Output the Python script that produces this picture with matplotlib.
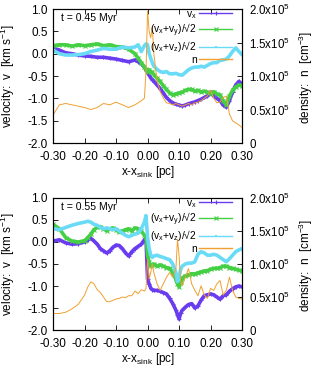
#!/usr/bin/env python3
"""Velocity and density cuts through the sink at t = 0.45 and 0.55 Myr."""

import matplotlib

matplotlib.use("Agg")
import matplotlib.pyplot as plt
from matplotlib.lines import Line2D

# ---- t = 0.45 Myr -------------------------------------------------------
x_045 = [-0.30, -0.28, -0.26, -0.24, -0.22, -0.20, -0.18, -0.16, -0.14, -0.12,
         -0.10, -0.08, -0.06, -0.04, -0.03, -0.02, -0.01, -0.005, 0.0, 0.005,
         0.01, 0.015, 0.02, 0.03, 0.04, 0.05, 0.06, 0.07, 0.08, 0.09,
         0.10, 0.11, 0.12, 0.13, 0.14, 0.15, 0.16, 0.17, 0.18, 0.19,
         0.20, 0.21, 0.22, 0.23, 0.24, 0.25, 0.26, 0.27, 0.28, 0.29, 0.30]
vx_045 = [0.12, 0.08, 0.02, 0.0, -0.03, -0.05, -0.06, -0.08, -0.08, -0.10,
          -0.12, -0.15, -0.18, -0.14, -0.18, -0.22, -0.30, -0.36, -0.42, -0.48,
          -0.54, -0.58, -0.62, -0.70, -0.78, -0.88, -0.98, -1.05, -1.10, -1.13,
          -1.15, -1.17, -1.15, -1.12, -1.10, -1.08, -1.05, -1.02, -0.98, -0.95,
          -0.86, -0.95, -1.00, -1.05, -1.15, -1.20, -1.05, -0.85, -0.70, -0.62, -0.68]
vxy_045 = [0.18, 0.20, 0.20, 0.17, 0.20, 0.18, 0.20, 0.22, 0.18, 0.20,
           0.16, 0.15, 0.10, 0.0, -0.10, -0.20, -0.30, -0.35, -0.40, -0.36,
           -0.40, -0.42, -0.47, -0.55, -0.62, -0.72, -0.80, -0.88, -0.92, -0.90,
           -0.88, -0.86, -0.82, -0.80, -0.80, -0.84, -0.82, -0.86, -0.84, -0.86,
           -0.90, -0.85, -0.90, -0.92, -1.05, -1.15, -0.95, -0.82, -0.75, -0.70, -0.72]
vxz_045 = [0.08, 0.0, -0.03, -0.03, -0.02, 0.0, 0.05, 0.08, 0.12, 0.10,
           0.10, 0.15, 0.13, 0.15, 0.20, 0.05, 0.18, 0.22, 0.20, 0.0,
           -0.10, -0.20, -0.28, -0.35, -0.40, -0.42, -0.40, -0.45, -0.45, -0.44,
           -0.47, -0.48, -0.42, -0.36, -0.32, -0.30, -0.30, -0.28, -0.30, -0.26,
           -0.22, -0.20, -0.20, -0.15, -0.14, -0.12, -0.05, 0.05, 0.13, 0.05, -0.02]
n_045 = [0.42, 0.57, 0.59, 0.57, 0.55, 0.53, 0.50, 0.53, 0.59, 0.57,
         0.61, 0.57, 0.53, 0.57, 0.60, 0.63, 0.67, 1.07, 1.97, 1.67,
         1.57, 1.73, 1.33, 0.93, 0.77, 0.67, 0.60, 0.59, 0.57, 0.59,
         0.57, 0.55, 0.57, 0.59, 0.57, 0.60, 0.61, 0.63, 0.67, 0.70,
         0.79, 0.67, 0.60, 0.61, 0.68, 0.70, 0.43, 0.33, 0.30, 0.27, 0.23]

# ---- t = 0.55 Myr -------------------------------------------------------
x_055 = [-0.30, -0.28, -0.26, -0.24, -0.22, -0.20, -0.19, -0.18, -0.17, -0.16,
         -0.15, -0.14, -0.13, -0.12, -0.11, -0.10, -0.09, -0.08, -0.07, -0.06,
         -0.05, -0.04, -0.03, -0.02, -0.01, -0.005, 0.0, 0.005, 0.01, 0.015,
         0.02, 0.03, 0.04, 0.05, 0.06, 0.07, 0.08, 0.09, 0.095, 0.10,
         0.105, 0.11, 0.12, 0.13, 0.14, 0.15, 0.16, 0.17, 0.18, 0.19,
         0.20, 0.21, 0.22, 0.23, 0.24, 0.25, 0.26, 0.27, 0.28, 0.29, 0.30]
vx_055 = [0.02, 0.05, -0.02, -0.05, -0.04, 0.0, 0.05, 0.08, 0.02, -0.05,
          -0.15, -0.20, -0.25, -0.20, -0.12, -0.07, -0.08, -0.15, -0.25, -0.32,
          -0.22, -0.15, -0.10, -0.05, 0.05, 0.10, -0.85, -0.95, -1.05, -1.08,
          -1.10, -1.10, -1.12, -1.15, -1.18, -1.28, -1.40, -1.55, -1.65, -1.75,
          -1.62, -1.55, -1.48, -1.42, -1.40, -1.50, -1.45, -1.32, -1.22, -1.20,
          -1.18, -1.20, -1.25, -1.30, -1.22, -1.20, -1.12, -1.06, -1.02, -1.00, -1.02]
vxy_055 = [0.40, 0.30, 0.10, 0.02, 0.0, 0.03, 0.10, 0.18, 0.28, 0.33,
           0.35, 0.30, 0.26, 0.30, 0.32, 0.28, 0.22, 0.25, 0.28, 0.30,
           0.25, 0.32, 0.30, 0.25, 0.15, 0.12, -0.30, -0.45, -0.55, -0.52,
           -0.50, -0.55, -0.52, -0.55, -0.58, -0.60, -0.70, -0.85, -0.95, -1.02,
           -0.90, -0.82, -0.77, -0.75, -0.72, -0.73, -0.70, -0.68, -0.66, -0.65,
           -0.62, -0.60, -0.60, -0.58, -0.55, -0.55, -0.58, -0.60, -0.62, -0.64, -0.66]
vxz_055 = [0.30, 0.28, 0.33, 0.38, 0.42, 0.45, 0.47, 0.45, 0.40, 0.38,
           0.33, 0.30, 0.32, 0.30, 0.28, 0.30, 0.25, 0.20, 0.15, 0.12,
           0.15, 0.18, 0.20, 0.30, 0.45, 0.60, 0.10, -0.15, -0.30, -0.35,
           -0.32, -0.30, -0.33, -0.35, -0.38, -0.40, -0.50, -0.70, -0.90, -0.80,
           -0.62, -0.55, -0.50, -0.48, -0.48, -0.45, -0.28, -0.22, -0.25, -0.30,
           -0.30, -0.28, -0.30, -0.35, -0.40, -0.45, -0.38, -0.30, -0.22, -0.18, -0.15]
n_055 = [0.25, 0.25, 0.27, 0.32, 0.39, 0.53, 0.65, 0.73, 0.70, 0.61,
         0.57, 0.50, 0.43, 0.43, 0.45, 0.47, 0.48, 0.50, 0.49, 0.52,
         0.52, 0.59, 0.55, 0.61, 0.59, 0.63, 1.07, 0.77, 0.87, 1.00,
         0.87, 0.70, 0.60, 0.70, 0.80, 0.87, 0.80, 0.93, 1.37, 1.13,
         0.73, 0.67, 0.80, 0.93, 0.70, 0.60, 0.52, 0.67, 0.53, 0.48,
         0.63, 0.60, 0.70, 0.75, 0.53, 0.60, 0.80, 0.60, 0.50, 0.48, 0.47]

panel_times = ["t = 0.45 Myr", "t = 0.55 Myr"]
series_labels = [r"v$_x$", r"(v$_x$+v$_y$)/√2", r"(v$_x$+v$_z$)/√2", "n"]
x_ticks = [-0.30, -0.20, -0.10, 0.00, 0.10, 0.20, 0.30]
v_ticks = [-2.0, -1.5, -1.0, -0.5, 0.0, 0.5, 1.0]
n_ticks = [0.0, 0.5, 1.0, 1.5, 2.0]
n_tick_labels = ["0", r"0.5x10$^5$", r"1.0x10$^5$", r"1.5x10$^5$", r"2.0x10$^5$"]

C_VX = "#6a3cf0"
C_VXY = "#44cf44"
C_VXZ = "#6adbf7"
C_N = "#f0a030"

plt.rcParams["font.family"] = ["Liberation Sans", "DejaVu Sans"]
plt.rcParams["font.size"] = 8
plt.rcParams["mathtext.fontset"] = "custom"
plt.rcParams["mathtext.rm"] = "Liberation Sans"
plt.rcParams["mathtext.it"] = "Liberation Sans:italic"
plt.rcParams["mathtext.sf"] = "Liberation Sans"
plt.rcParams["mathtext.default"] = "rm"


def draw_panel(fig, rect, t_label, x, vx, vxy, vxz, n):
    ax = fig.add_axes(rect)
    ax2 = ax.twinx()

    ax.plot(x, vx, color=C_VX, lw=2.6, marker="+", ms=3, mew=0.8)
    ax.plot(x, vxy, color=C_VXY, lw=2.6, marker="x", ms=2.5, mew=0.8)
    ax.plot(x, vxz, color=C_VXZ, lw=2.6, marker="s", ms=2, mew=0)
    ax2.plot(x, n, color=C_N, lw=0.7)

    ax.set_xlim(-0.3, 0.3)
    ax.set_ylim(-2.0, 1.0)
    ax2.set_ylim(0.0, 2.0)
    ax.set_xticks(x_ticks)
    ax.set_xticklabels([f"{v:.2f}" for v in x_ticks])
    ax.set_yticks(v_ticks)
    ax.set_yticklabels([f"{v:.1f}" for v in v_ticks])
    ax2.set_yticks(n_ticks)
    ax2.set_yticklabels(n_tick_labels)

    ax.tick_params(direction="in", length=3.5, width=0.6, top=True, right=False,
                   pad=4, labelsize=8.5)
    ax.tick_params(axis="x", pad=5.8)
    ax2.tick_params(direction="in", length=3.5, width=0.6, pad=5, labelsize=8.3)
    for a in (ax, ax2):
        for s in a.spines.values():
            s.set_linewidth(0.8)

    ax.set_xlabel(r"x-x$_{\rm sink}$ [pc]", fontsize=8.5, va="center")
    ax.xaxis.set_label_coords(0.5, -0.22)
    ax.set_ylabel(r"velocity:  v  [km s$^{-1}$]", fontsize=8.5, va="center")
    ax.yaxis.set_label_coords(-0.24, 0.5)
    ax2.set_ylabel(r"density:  n  [cm$^{-3}$]", fontsize=8.5, va="center",
                   rotation=90)
    ax2.yaxis.set_label_coords(1.34, 0.49)
    ax.text(0.04, 0.935, t_label, transform=ax.transAxes, fontsize=7.6,
            ha="left", va="center")

    handles = [
        Line2D([], [], color=C_VX, lw=1.0, marker="+", ms=3, mew=0.8),
        Line2D([], [], color=C_VXY, lw=1.0, marker="x", ms=2.5, mew=0.8),
        Line2D([], [], color=C_VXZ, lw=1.0, marker="s", ms=2, mew=0),
        Line2D([], [], color=C_N, lw=1.0),
    ]
    ax2.legend(handles, series_labels, loc="upper right",
               bbox_to_anchor=(0.947, 1.0), frameon=False, markerfirst=False,
               handlelength=3.2, handletextpad=0.25, labelspacing=0.05,
               borderaxespad=0.0, borderpad=0.0, fontsize=7.4)
    return ax


fig = plt.figure(figsize=(3.16, 3.70), dpi=100)
draw_panel(fig, [0.168, 0.6135, 0.598, 0.362], panel_times[0],
           x_045, vx_045, vxy_045, vxz_045, n_045)
draw_panel(fig, [0.168, 0.108, 0.598, 0.357], panel_times[1],
           x_055, vx_055, vxy_055, vxz_055, n_055)

fig.savefig("out.png", dpi=100)
